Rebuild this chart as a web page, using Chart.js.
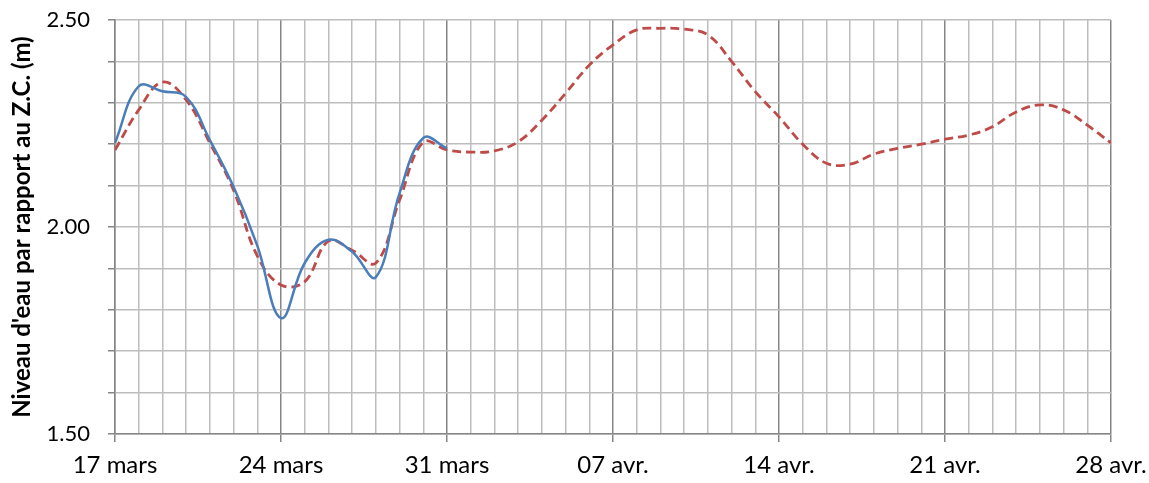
<!DOCTYPE html>
<html>
<head>
<meta charset="utf-8">
<script src="https://cdn.jsdelivr.net/npm/chart.js@4"></script>
<style>
    html, body { margin: 0; padding: 0; background: #ffffff; }
    #wrap { width: 1149px; height: 483px; }
</style>
</head>
<body>
<div id="wrap"><canvas id="chart-niveau"></canvas></div>
<script>
// Tick labels on the date axis (one every 7 days, from 17 mars)
var dateLabels = ['17 mars', '24 mars', '31 mars', '07 avr.', '14 avr.', '21 avr.', '28 avr.'];

// Observed level, daily from 17 mars to 31 mars
var observed = [2.203, 2.340, 2.328, 2.314, 2.210, 2.097, 1.955, 1.780, 1.913, 1.969,
                1.940, 1.879, 2.082, 2.215, 2.190];

// Predicted level, daily from 17 mars to 28 avr.
var predicted = [2.186, 2.283, 2.350, 2.307, 2.203, 2.089, 1.930, 1.860, 1.868, 1.966,
                 1.944, 1.913, 2.065, 2.205, 2.186, 2.181, 2.184, 2.206, 2.258, 2.323,
                 2.391, 2.440, 2.476, 2.480, 2.478, 2.464, 2.400, 2.327, 2.266, 2.200,
                 2.154, 2.152, 2.176, 2.190, 2.200, 2.212, 2.222, 2.242, 2.278, 2.295,
                 2.283, 2.246, 2.203];

var yMin = 1.5, yMax = 2.5;

function toPoints(values) {
    return values.map(function(v, i) { return { x: i, y: v }; });
}

var fontFamily = 'Lato, "Open Sans", sans-serif';

var ctx = document.getElementById('chart-niveau').getContext('2d');

new Chart(ctx, {
    type: 'line',
    data: {
        datasets: [{
            label: 'Observé',
            data: toPoints(observed),
            borderColor: '#4a7ebb',
            borderWidth: 2.5,
            pointRadius: 0,
            tension: 0.4,
            fill: false
        }, {
            label: 'Prévu',
            data: toPoints(predicted),
            borderColor: '#be4b48',
            borderWidth: 2.8,
            borderDash: [9, 5],
            pointRadius: 0,
            tension: 0.4,
            fill: false
        }]
    },
    options: {
        responsive: true,
        maintainAspectRatio: false,
        animation: false,
        layout: {
            padding: { left: 0, right: 38, top: 20, bottom: 0 }
        },
        plugins: {
            legend: { display: false },
            tooltip: { enabled: false }
        },
        scales: {
            x: {
                type: 'linear',
                min: 0,
                max: predicted.length - 1,
                ticks: {
                    stepSize: 1,
                    autoSkip: false,
                    maxRotation: 0,
                    padding: 9,
                    color: '#000000',
                    font: { family: fontFamily, size: 24 },
                    callback: function(value) {
                        return value % 7 === 0 ? dateLabels[value / 7] : '';
                    }
                },
                grid: {
                    color: function(c) {
                        return c.tick && c.tick.value % 7 === 0 ? '#868686' : '#bdbdbd';
                    },
                    tickColor: function(c) {
                        return c.tick && c.tick.value % 7 === 0 ? '#868686' : 'rgba(0,0,0,0)';
                    },
                    lineWidth: 1.5,
                    tickLength: 8
                },
                border: { color: '#868686', width: 1.5 },
                afterFit: function(scale) {
                    scale.height = 49;
                    // let the labels hang over the edges, like the original
                    scale.paddingLeft = 0;
                    scale.paddingRight = 0;
                }
            },
            y: {
                min: yMin,
                max: yMax,
                ticks: {
                    stepSize: 0.1,
                    padding: 18,
                    color: '#000000',
                    font: { family: fontFamily, size: 22 },
                    callback: function(value) {
                        var r = Math.round(value * 10);
                        return r % 5 === 0 ? value.toFixed(2) : '';
                    }
                },
                grid: {
                    color: '#bdbdbd',
                    tickColor: '#868686',
                    lineWidth: 1.5,
                    tickLength: 7
                },
                border: { color: '#868686', width: 1.5 },
                title: {
                    display: true,
                    text: "Niveau d'eau par rapport au Z.C. (m)",
                    color: '#000000',
                    font: { family: fontFamily, size: 24, weight: 'bold' },
                    padding: { top: 8, bottom: 0 }
                },
                afterFit: function(scale) {
                    scale.width = 115;
                    scale.paddingTop = 0;
                    scale.paddingBottom = 0;
                }
            }
        }
    }
});
</script>
</body>
</html>
